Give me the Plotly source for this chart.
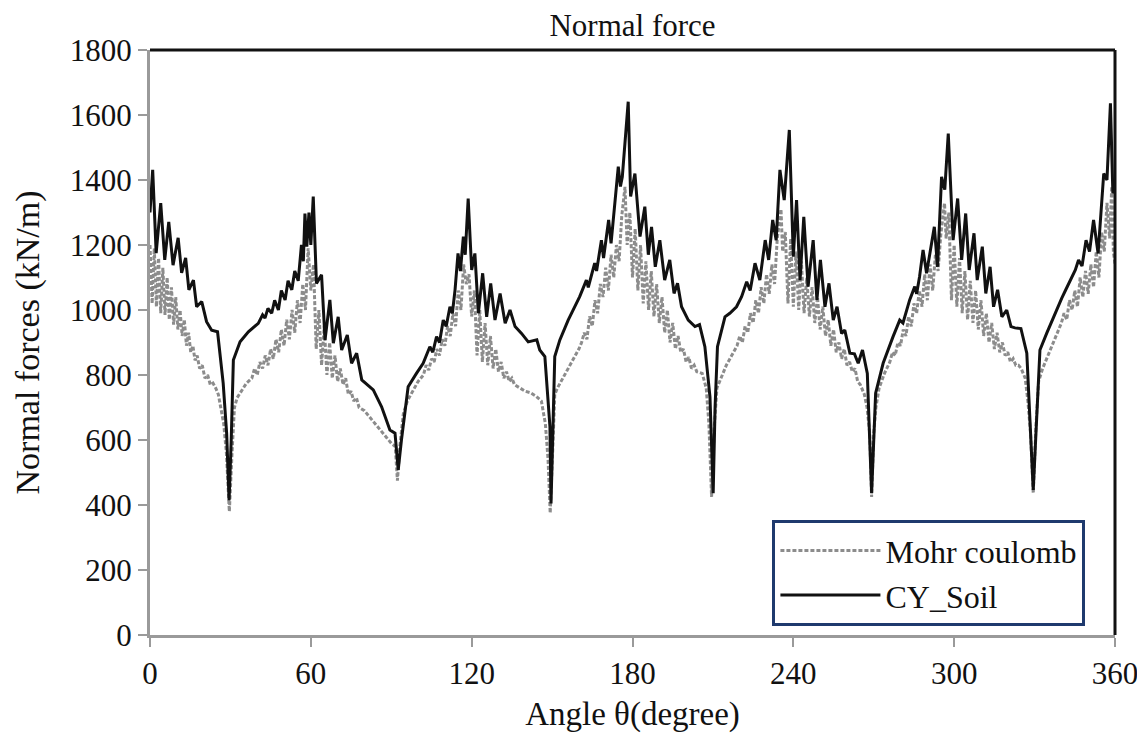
import plotly.graph_objects as go

# ---- data ----
mc_angle = [0, 0.8, 1.6, 2.4, 3.2, 4.0, 4.8, 5.6, 6.4, 7.2, 8.0, 8.8, 9.6, 10.4, 11.2, 12.0, 12.8, 13.6, 14.4, 15.2,
            16.0, 16.8, 17.6, 18.5, 19.5, 20.5, 21.5, 22.5, 23.5, 24.5, 25.5, 26.5, 27.5, 28.5, 29.6, 30.6, 31.5, 32.5,
            34, 36, 38, 39, 40, 41, 42, 43, 44, 45, 46, 47, 48, 49, 50, 51, 52, 53, 54, 55, 56, 57, 58, 59, 60, 61, 62,
            63, 64, 65, 66, 67, 68, 69, 70, 71, 72, 73, 74, 75, 76, 77, 78, 80, 82, 84, 86, 88, 90, 91.5, 92.3, 93.2,
            94.5, 96, 98, 100, 102, 103, 104, 105, 106, 107, 108, 109, 110, 111, 112, 113, 114, 115, 116, 117, 118, 119,
            120, 121, 122, 123, 124, 125, 126, 127, 128, 129, 130, 131, 132, 133, 134, 135, 136, 138, 140, 142, 144, 146,
            147.5, 148.5, 149.3, 150.2, 151, 152, 154, 156, 158, 160, 161, 162, 163, 164, 165, 166, 167, 168, 169, 170,
            171, 172, 173, 174, 175, 176, 177.2, 178, 179, 180, 181, 182, 183, 184, 185, 186, 187, 188, 189, 190, 191,
            192, 193, 194, 195, 196, 197, 198, 199, 200, 201, 202, 203, 204, 206, 207.5, 208.5, 209.5, 210.5, 211.5, 213,
            215, 217, 219, 220, 221, 222, 223, 224, 225, 226, 227, 228, 229, 230, 231, 232, 233, 234, 235.4, 236, 237,
            238, 239, 240, 241, 242, 243, 244, 245, 246, 247, 248, 249, 250, 251, 252, 253, 254, 255, 256, 257, 258, 259,
            260, 261, 262, 263, 264, 265, 266.5, 267.5, 268.5, 269.2, 270, 270.8, 272, 274, 276, 277, 278, 279, 280, 281,
            282, 283, 284, 285, 286, 287, 288, 289, 290, 291, 292, 293, 294, 295, 296.4, 297, 298, 299, 300, 301, 302,
            303, 304, 305, 306, 307, 308, 309, 310, 311, 312, 313, 314, 315, 316, 317, 318, 319, 320, 321, 322, 323, 324,
            325, 326.5, 327.5, 328.5, 329.5, 330.5, 331.5, 333, 335, 337, 339, 340, 341, 342, 343, 344, 345, 346, 347,
            348, 349, 350, 351, 352, 353, 354, 355, 356, 357, 358, 358.8, 359.4, 360]
mc_force = [1200, 1020, 1190, 1010, 1160, 990, 1130, 985, 1100, 970, 1070, 955, 1040, 940, 1000, 920, 970, 890, 930, 870,
            890, 845, 860, 820, 830, 790, 800, 770, 775, 760, 740, 700, 650, 560, 380, 560, 700, 730,
            750, 775, 790, 820, 800, 840, 820, 860, 830, 880, 850, 910, 870, 940, 890, 970, 910, 1000, 930, 1030, 960, 1080, 1000, 1190, 1060, 1140, 880,
            1000, 830, 950, 800, 900, 790, 860, 780, 820, 770, 790, 740, 750, 720, 730, 700, 690, 670, 650, 630, 610, 590, 580, 475, 580,
            680, 720, 750, 780, 800, 830, 815, 850, 840, 880, 860, 910, 890, 950, 920, 990, 950, 1060, 1000, 1140, 1080, 1110,
            980, 1060, 860, 1000, 840, 960, 830, 920, 820, 880, 810, 840, 790, 810, 780, 790, 770, 760, 750, 745, 735, 720,
            650, 540, 375, 560, 740, 760, 790, 820, 850, 880, 900, 930, 910, 980, 950, 1030, 990, 1080, 1040, 1130,
            1060, 1170, 1100, 1200, 1150, 1290, 1379, 1200, 1300, 1100, 1250, 1060, 1200, 1020, 1150, 1000, 1120, 980, 1080, 960, 1040,
            930, 1000, 900, 960, 880, 920, 870, 880, 840, 855, 820, 830, 810, 805, 760, 650, 425, 640, 760, 790,
            830, 860, 890, 920, 900, 950, 930, 990, 960, 1030, 990, 1070, 1020, 1110, 1050, 1140, 1080, 1220, 1310, 1180, 1240,
            1020, 1220, 1010, 1180, 1000, 1150, 990, 1100, 980, 1070, 960, 1040, 940, 1010, 920, 970, 890, 940, 870, 900, 850, 880,
            830, 840, 810, 820, 780, 770, 740, 700, 620, 425, 620, 700, 760, 805, 840, 870, 860, 900, 890, 940,
            920, 980, 950, 1020, 990, 1060, 1010, 1110, 1030, 1140, 1060, 1170, 1120, 1230, 1329, 1220, 1300, 1030, 1200, 1010, 1160,
            990, 1120, 970, 1090, 960, 1060, 940, 1030, 920, 990, 900, 960, 880, 930, 870, 900, 860, 870, 840, 850, 830, 830,
            820, 790, 720, 620, 436, 640, 780, 820, 860, 900, 940, 960, 990, 970, 1030, 1000, 1060, 1010, 1100,
            1040, 1120, 1050, 1140, 1070, 1180, 1100, 1240, 1180, 1330, 1220, 1380, 1180, 1140]

cy_angle = [0, 1.0, 2.3, 4.0, 5.5, 7.0, 8.6, 10.5, 11.8, 13.3, 14.5, 16.2, 17.4, 19.3, 21.1, 23.0, 25.2, 27.3, 28.6, 29.5,
            30.3, 31.1, 33.6, 36.7, 40.4, 42.0, 42.9, 44.0, 45.4, 46.5, 47.9, 49.0, 50.4, 51.5, 52.9, 54.0, 55.3, 56.5,
            57.2, 57.8, 58.5, 59.3, 60.0, 60.9, 62.1, 64.0, 65.3, 67.1, 68.4, 70.2, 71.5, 73.6, 75.2, 77.1, 79.0, 83.3,
            86.4, 89.5, 91.4, 92.6, 93.8, 96.3, 99.4, 101.9, 104.4, 105.5, 106.9, 108.0, 109.4, 110.5, 111.9, 112.8,
            113.8, 114.9, 115.8, 116.9, 117.6, 118.7, 120.0, 121.2, 122.5, 124.1, 125.6, 127.1, 128.7, 130.6, 132.5,
            134.3, 136.2, 138.6, 141.1, 144.3, 145.4, 147.3, 149.2, 149.6, 151.0, 152.9, 156.0, 159.1, 160.3, 162.8,
            163.5, 165.9, 166.6, 168.4, 169.2, 171.1, 172.0, 174.7, 175.5, 176.2, 178.4, 179.3, 180.9, 182.8, 184.6,
            185.9, 187.1, 188.5, 190.2, 192.0, 193.9, 195.5, 196.8, 198.3, 200.8, 203.3, 205.0, 207.0, 208.9, 210.1,
            210.8, 211.7, 214.5, 216.3, 218.8, 220.7, 222.6, 223.9, 225.7, 227.5, 229.5, 230.8, 232.3, 233.6, 235.0,
            236.6, 238.5, 240.0, 241.2, 242.5, 243.9, 245.5, 247.4, 248.8, 250.1, 251.8, 253.3, 254.9, 256.3, 258.0,
            259.2, 261.1, 262.8, 264.2, 265.8, 267.6, 269.2, 270.7, 273.5, 277.2, 279.7, 280.9, 283.4, 285.3, 286.0,
            287.1, 288.4, 289.7, 292.6, 293.8, 295.3, 296.5, 297.8, 299.6, 301.3, 302.8, 304.3, 305.6, 307.4, 308.6,
            310.5, 311.8, 313.4, 314.7, 316.2, 317.8, 319.6, 321.2, 322.7, 324.9, 327.1, 329.5, 332.0, 334.5, 337.6,
            340.1, 341.5, 343.3, 345.2, 346.4, 347.7, 349.2, 350.5, 352.0, 353.7, 355.8, 357.0, 358.3, 359.2, 360.0]
cy_force = [1300, 1431, 1175, 1329, 1154, 1271, 1138, 1222, 1114, 1160, 1062, 1092, 1010, 1026, 964, 938, 933, 775, 620, 415,
            600, 846, 902, 933, 959, 985, 975, 1005, 990, 1030, 1000, 1060, 1031, 1090, 1062, 1120, 1090, 1200,
            1150, 1297, 1195, 1300, 1200, 1349, 1082, 1108, 908, 1031, 898, 979, 877, 923, 836, 867, 785, 754,
            702, 631, 621, 508, 600, 764, 805, 836, 887, 870, 918, 900, 969, 950, 1010, 990,
            1062, 1174, 1120, 1226, 1170, 1343, 1123, 1174, 990, 1113, 979, 1082, 969, 1051, 959,
            1000, 949, 928, 902, 908, 877, 857, 641, 405, 857, 908, 969, 1021, 1041, 1092,
            1070, 1144, 1120, 1215, 1160, 1277, 1205, 1441, 1380, 1410, 1641, 1349, 1420, 1226, 1318,
            1170, 1256, 1133, 1215, 1092, 1154, 1051, 1082, 1010, 969, 949, 955, 887, 733, 436,
            700, 887, 979, 990, 1010, 1041, 1087, 1060, 1144, 1092, 1215, 1154, 1277, 1215, 1431,
            1338, 1554, 1164, 1338, 1092, 1287, 1072, 1215, 1031, 1154, 1010, 1082, 969, 1010, 928,
            938, 867, 865, 836, 877, 805, 436, 744, 836, 918, 969, 960, 1031, 1072, 1050,
            1103, 1185, 1113, 1256, 1133, 1410, 1370, 1543, 1215, 1343, 1154, 1297, 1123, 1236, 1092,
            1195, 1051, 1133, 1010, 1062, 979, 1000, 949, 945, 943, 867, 446, 877, 928, 990,
            1036, 1060, 1092, 1123, 1154, 1135, 1215, 1180, 1277, 1174, 1420, 1400, 1636, 1359, 1380]

x_ticks = [0, 60, 120, 180, 240, 300, 360]
y_ticks = [0, 200, 400, 600, 800, 1000, 1200, 1400, 1600, 1800]

SERIF = "Liberation Serif"

fig = go.Figure()
fig.add_trace(go.Scatter(x=mc_angle, y=mc_force, mode="lines", name="Mohr coulomb",
                         line=dict(color="#8c8c8c", width=3, dash="4px,2px")))
fig.add_trace(go.Scatter(x=cy_angle, y=cy_force, mode="lines", name="CY_Soil",
                         line=dict(color="#111111", width=3)))

axis_common = dict(showgrid=False, zeroline=False, ticks="outside", ticklen=9, tickwidth=2,
                   tickcolor="#9a9a9a", showline=True, linecolor="#9a9a9a", linewidth=3,
                   automargin=False, ticklabeloverflow="allow",
                   tickfont=dict(family=SERIF, size=31, color="#111"))

fig.update_layout(
    width=1129, height=727,
    margin=dict(l=142, r=22, t=42, b=100),
    plot_bgcolor="white", paper_bgcolor="white",
    title=dict(text="Normal force", x=0.5, xref="paper", xanchor="center", y=0.976, yanchor="middle",
               font=dict(family=SERIF, size=31, color="#111")),
    xaxis=dict(range=[0, 360], tickvals=x_ticks, title=dict(text="Angle θ(degree)", standoff=12,
               font=dict(family=SERIF, size=33, color="#111")), **axis_common),
    yaxis=dict(range=[0, 1800], tickvals=y_ticks, title=dict(text="Normal forces (kN/m)", standoff=20,
               font=dict(family=SERIF, size=34, color="#111")), **axis_common),
    legend=dict(x=0.645, y=0.015, xanchor="left", yanchor="bottom",
                bgcolor="white", bordercolor="#1f3a6e", borderwidth=3,
                font=dict(family=SERIF, size=32, color="#111"), itemwidth=100,
                tracegroupgap=0),
    showlegend=True,
)

# top and right frame lines (black)
fig.add_shape(type="line", xref="paper", yref="paper", x0=0, x1=1, y0=1, y1=1,
              line=dict(color="#111", width=3))
fig.add_shape(type="line", xref="paper", yref="paper", x0=1, x1=1, y0=0, y1=1,
              line=dict(color="#111", width=3))

fig.write_html("out.html")
